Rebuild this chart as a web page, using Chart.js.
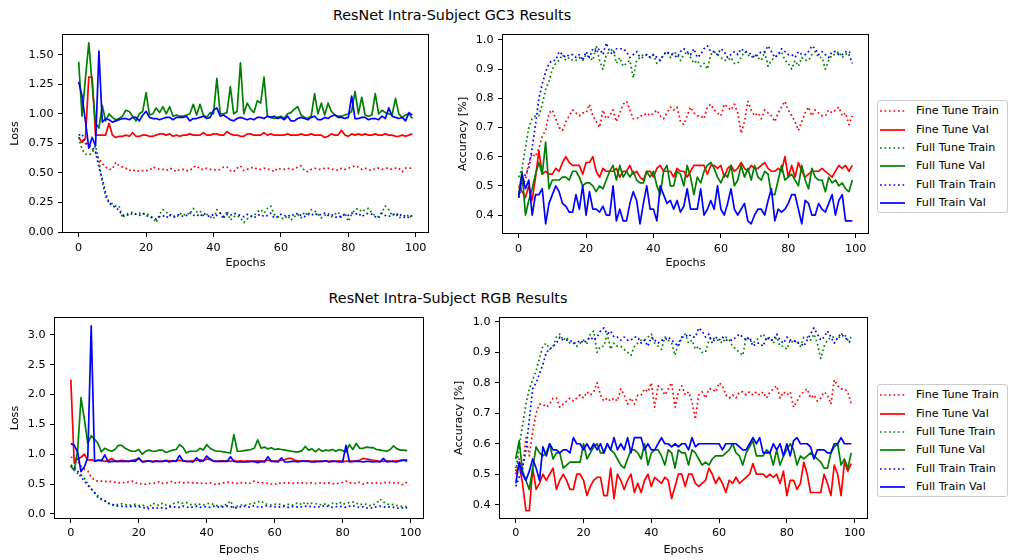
<!DOCTYPE html>
<html lang="en">
<head>
  <meta charset="UTF-8" />
  <title>ResNet Intra-Subject Results</title>
  <script src="https://cdn.jsdelivr.net/npm/chart.js"></script>
  <style>
    body { margin: 0; background: #fff; font-family: 'DejaVu Sans', sans-serif; color: #000; }
    #page { position: relative; width: 1010px; height: 560px; overflow: hidden; background: #fff; }
    canvas { position: absolute; }
    .fig-title { position: absolute; width: 400px; text-align: center; font-size: 14.3px; line-height: 18px; }
    .legend {
      position: absolute; width: 131px; height: 113px; box-sizing: border-box;
      border: 1px solid #cccccc; border-radius: 3px; background: rgba(255,255,255,0.8);
      font-size: 11.2px;
    }
    .legend-row { position: absolute; left: 0; height: 14px; width: 130px; }
    .legend-row svg { position: absolute; left: 2px; top: 0; }
    .legend-row span { position: absolute; left: 38px; top: 0; line-height: 14px; white-space: nowrap; }
  </style>
</head>
<body>
<div id="page">
  <div class="fig-title" style="left:252px;top:6px">ResNet Intra-Subject GC3 Results</div>
  <div class="fig-title" style="left:248px;top:289px">ResNet Intra-Subject RGB Results</div>

  <canvas id="gc3Loss" width="440" height="244" style="left:0;top:26px"></canvas>
  <canvas id="gc3Acc" width="425" height="244" style="left:450px;top:26px"></canvas>
  <canvas id="rgbLoss" width="435" height="248" style="left:0;top:309px"></canvas>
  <canvas id="rgbAcc" width="430" height="248" style="left:445px;top:309px"></canvas>

  <div class="legend" id="legendTop" style="left:877px;top:100px"></div>
  <div class="legend" id="legendBottom" style="left:877px;top:384px"></div>
</div>

<script>
  // series order: fine tune train/val, full tune train/val, full train train/val
  const seriesNames = ['Fine Tune Train', 'Fine Tune Val', 'Full Tune Train', 'Full Tune Val', 'Full Train Train', 'Full Train Val'];
  const seriesColors = ['#ff0000', '#ff0000', '#008000', '#008000', '#0000ff', '#0000ff'];
  const seriesDotted = [true, false, true, false, true, false];

  const epochs = Array.from({ length: 100 }, (_, i) => i);
  const epochTicks = [0, 20, 40, 60, 80, 100];
  const gc3LossTicks = [0, 0.25, 0.5, 0.75, 1.0, 1.25, 1.5];
  const rgbLossTicks = [0, 0.5, 1.0, 1.5, 2.0, 2.5, 3.0];
  const accTicks = [0.4, 0.5, 0.6, 0.7, 0.8, 0.9, 1.0];

  // ---- GC3 loss ----
  const gc3LossFineTrain = [
    0.80, 0.78, 0.76, 0.73, 0.70, 0.67, 0.62, 0.58, 0.55, 0.53,
    0.53, 0.59, 0.56, 0.55, 0.54, 0.52, 0.53, 0.51, 0.52, 0.52,
    0.52, 0.52, 0.55, 0.54, 0.53, 0.53, 0.52, 0.54, 0.53, 0.51,
    0.53, 0.53, 0.52, 0.52, 0.55, 0.56, 0.53, 0.53, 0.54, 0.53,
    0.53, 0.52, 0.53, 0.55, 0.55, 0.52, 0.51, 0.54, 0.56, 0.52,
    0.53, 0.54, 0.55, 0.53, 0.53, 0.54, 0.53, 0.53, 0.51, 0.54,
    0.53, 0.53, 0.54, 0.53, 0.53, 0.55, 0.56, 0.52, 0.51, 0.53,
    0.54, 0.53, 0.53, 0.54, 0.54, 0.53, 0.53, 0.52, 0.54, 0.53,
    0.54, 0.55, 0.56, 0.55, 0.53, 0.54, 0.53, 0.52, 0.54, 0.54,
    0.53, 0.54, 0.54, 0.53, 0.54, 0.54, 0.51, 0.54, 0.54, 0.54
  ];
  const gc3LossFineVal = [
    0.80, 0.76, 0.79, 1.31, 1.31, 0.82, 0.82, 0.82, 0.82, 0.92,
    0.82, 0.80, 0.81, 0.81, 0.82, 0.81, 0.84, 0.81, 0.81, 0.82,
    0.82, 0.81, 0.81, 0.82, 0.83, 0.83, 0.82, 0.83, 0.81, 0.82,
    0.81, 0.82, 0.82, 0.83, 0.82, 0.82, 0.82, 0.84, 0.82, 0.82,
    0.83, 0.83, 0.82, 0.82, 0.85, 0.83, 0.82, 0.82, 0.81, 0.81,
    0.83, 0.83, 0.82, 0.82, 0.82, 0.84, 0.82, 0.83, 0.82, 0.82,
    0.82, 0.82, 0.83, 0.82, 0.82, 0.82, 0.83, 0.82, 0.82, 0.83,
    0.82, 0.82, 0.82, 0.80, 0.81, 0.83, 0.82, 0.82, 0.86, 0.82,
    0.81, 0.83, 0.82, 0.83, 0.82, 0.83, 0.82, 0.82, 0.83, 0.82,
    0.82, 0.83, 0.82, 0.82, 0.81, 0.81, 0.82, 0.81, 0.82, 0.83
  ];
  const gc3LossFullTuneTrain = [
    0.80, 0.70, 0.66, 0.65, 0.67, 0.73, 0.60, 0.42, 0.30, 0.25,
    0.24, 0.22, 0.22, 0.12, 0.15, 0.16, 0.17, 0.15, 0.16, 0.15,
    0.16, 0.14, 0.12, 0.08, 0.15, 0.19, 0.17, 0.14, 0.13, 0.12,
    0.16, 0.14, 0.16, 0.15, 0.20, 0.17, 0.18, 0.14, 0.15, 0.13,
    0.11, 0.19, 0.16, 0.11, 0.18, 0.10, 0.13, 0.14, 0.12, 0.08,
    0.11, 0.13, 0.14, 0.17, 0.19, 0.16, 0.20, 0.22, 0.15, 0.13,
    0.12, 0.11, 0.14, 0.10, 0.13, 0.15, 0.12, 0.17, 0.14, 0.19,
    0.18, 0.15, 0.12, 0.14, 0.16, 0.13, 0.15, 0.17, 0.12, 0.16,
    0.09, 0.15, 0.19, 0.20, 0.17, 0.19, 0.20, 0.16, 0.14, 0.13,
    0.17, 0.22, 0.19, 0.14, 0.16, 0.12, 0.13, 0.12, 0.15, 0.11
  ];
  const gc3LossFullTuneVal = [
    1.44, 0.98, 1.30, 1.60, 1.25, 0.92, 0.88, 1.07, 0.94, 1.00,
    0.97, 0.95, 0.96, 0.98, 1.03, 1.02, 0.98, 0.94, 1.00, 1.02,
    1.18, 0.99, 1.00, 1.05, 1.01, 1.06, 1.00, 1.06, 0.98, 0.99,
    0.98, 0.98, 0.99, 1.00, 1.08, 0.99, 1.08, 0.99, 0.97, 1.01,
    1.00, 1.30, 1.00, 1.00, 1.01, 1.23, 1.00, 1.02, 1.43, 1.00,
    1.09, 1.04, 1.01, 1.11, 1.09, 1.31, 0.98, 0.97, 0.96, 0.97,
    0.98, 0.96, 1.00, 1.01, 1.04, 1.06, 0.99, 0.97, 0.96, 0.98,
    1.17, 1.00, 1.09, 0.99, 1.09, 1.02, 0.99, 0.98, 0.98, 0.99,
    1.00, 1.02, 1.19, 1.00, 1.14, 0.99, 0.98, 0.99, 1.17, 1.00,
    1.03, 1.01, 1.00, 0.99, 1.13, 1.00, 0.97, 0.99, 1.00, 0.96
  ];
  const gc3LossFullTrainTrain = [
    0.82, 0.83, 0.75, 0.73, 0.72, 0.68, 0.55, 0.45, 0.33, 0.25,
    0.22, 0.21, 0.18, 0.14, 0.15, 0.14, 0.16, 0.15, 0.14, 0.16,
    0.14, 0.13, 0.12, 0.11, 0.13, 0.14, 0.12, 0.15, 0.13, 0.14,
    0.15, 0.13, 0.14, 0.16, 0.14, 0.15, 0.13, 0.16, 0.14, 0.13,
    0.15, 0.14, 0.16, 0.13, 0.15, 0.14, 0.16, 0.15, 0.14, 0.13,
    0.15, 0.14, 0.12, 0.14, 0.15, 0.13, 0.14, 0.16, 0.12, 0.13,
    0.15, 0.14, 0.13, 0.15, 0.14, 0.16, 0.14, 0.13, 0.15, 0.14,
    0.16, 0.14, 0.15, 0.16, 0.14, 0.15, 0.13, 0.12, 0.14, 0.15,
    0.14, 0.16, 0.15, 0.16, 0.13, 0.15, 0.16, 0.15, 0.13, 0.12,
    0.16, 0.14, 0.13, 0.15, 0.14, 0.16, 0.13, 0.14, 0.12, 0.14
  ];
  const gc3LossFullTrainVal = [
    1.27, 1.15, 0.94, 0.71, 0.80, 0.73, 1.53, 0.93, 0.96, 0.95,
    0.93, 0.94, 0.95, 0.96, 0.96, 0.95, 0.97, 0.97, 0.94, 0.99,
    1.02, 0.97, 0.96, 0.96, 0.95, 0.96, 0.97, 0.97, 0.95, 0.97,
    0.97, 0.97, 0.98, 0.94, 0.96, 0.96, 0.97, 0.98, 0.96, 0.97,
    1.03, 1.05, 0.98, 0.99, 0.97, 0.95, 0.94, 0.96, 0.97, 0.96,
    0.95, 0.96, 0.95, 0.97, 0.97, 0.96, 0.98, 0.97, 0.98, 0.96,
    0.97, 0.95, 0.98, 0.94, 0.94, 0.96, 0.97, 0.96, 0.95, 0.97,
    0.98, 0.95, 0.95, 0.97, 0.96, 0.98, 0.99, 0.97, 0.97, 0.96,
    0.97, 1.15, 0.96, 0.96, 0.97, 0.97, 0.95, 0.96, 0.96, 0.95,
    0.98, 0.96, 1.05, 0.98, 0.97, 0.96, 0.97, 0.94, 1.01, 0.99
  ];

  // ---- GC3 accuracy ----
  const gc3AccFineTrain = [
    0.47, 0.50, 0.52, 0.58, 0.61, 0.60, 0.63, 0.67, 0.69, 0.75,
    0.76, 0.73, 0.70, 0.69, 0.72, 0.74, 0.76, 0.75, 0.74, 0.75,
    0.75, 0.78, 0.74, 0.72, 0.70, 0.76, 0.73, 0.74, 0.76, 0.72,
    0.75, 0.78, 0.79, 0.76, 0.73, 0.73, 0.74, 0.74, 0.75, 0.74,
    0.75, 0.76, 0.74, 0.73, 0.75, 0.77, 0.76, 0.77, 0.72, 0.71,
    0.74, 0.77, 0.75, 0.74, 0.74, 0.73, 0.77, 0.78, 0.76, 0.75,
    0.74, 0.78, 0.77, 0.76, 0.78, 0.75, 0.68, 0.72, 0.79, 0.76,
    0.74, 0.75, 0.73, 0.76, 0.75, 0.74, 0.72, 0.75, 0.77, 0.79,
    0.76, 0.74, 0.72, 0.69, 0.72, 0.75, 0.77, 0.74, 0.76, 0.75,
    0.74, 0.74, 0.76, 0.75, 0.76, 0.77, 0.74, 0.75, 0.71, 0.74
  ];
  const gc3AccFineVal = [
    0.50, 0.48, 0.46, 0.50, 0.45, 0.53, 0.62, 0.54, 0.55, 0.54,
    0.54, 0.56, 0.55, 0.58, 0.60, 0.58, 0.57, 0.57, 0.57, 0.54,
    0.58, 0.58, 0.60, 0.55, 0.53, 0.56, 0.55, 0.55, 0.55, 0.56,
    0.53, 0.55, 0.55, 0.57, 0.54, 0.55, 0.53, 0.52, 0.55, 0.55,
    0.53, 0.56, 0.57, 0.55, 0.55, 0.55, 0.53, 0.56, 0.55, 0.55,
    0.53, 0.55, 0.57, 0.57, 0.57, 0.57, 0.54, 0.57, 0.57, 0.56,
    0.57, 0.53, 0.56, 0.57, 0.55, 0.56, 0.58, 0.56, 0.55, 0.57,
    0.56, 0.56, 0.57, 0.58, 0.56, 0.55, 0.55, 0.56, 0.55, 0.60,
    0.53, 0.57, 0.53, 0.58, 0.55, 0.53, 0.54, 0.55, 0.55, 0.55,
    0.56, 0.55, 0.54, 0.53, 0.55, 0.57, 0.56, 0.57, 0.55, 0.57
  ];
  const gc3AccFullTuneTrain = [
    0.53, 0.56, 0.63, 0.70, 0.73, 0.74, 0.74, 0.78, 0.83, 0.86,
    0.90, 0.92, 0.93, 0.95, 0.93, 0.94, 0.93, 0.93, 0.94, 0.93,
    0.95, 0.94, 0.93, 0.98, 0.93, 0.90, 0.95, 0.96, 0.97, 0.92,
    0.94, 0.91, 0.92, 0.93, 0.87, 0.93, 0.94, 0.95, 0.95, 0.94,
    0.95, 0.92, 0.93, 0.95, 0.96, 0.94, 0.96, 0.95, 0.93, 0.95,
    0.96, 0.94, 0.92, 0.93, 0.91, 0.92, 0.90, 0.95, 0.96, 0.95,
    0.94, 0.93, 0.93, 0.94, 0.92, 0.92, 0.94, 0.96, 0.95, 0.94,
    0.95, 0.94, 0.93, 0.96, 0.91, 0.93, 0.94, 0.95, 0.96, 0.93,
    0.92, 0.90, 0.93, 0.91, 0.94, 0.93, 0.93, 0.95, 0.96, 0.94,
    0.94, 0.90, 0.93, 0.95, 0.95, 0.96, 0.94, 0.95, 0.96, 0.95
  ];
  const gc3AccFullTuneVal = [
    0.47, 0.55, 0.40, 0.45, 0.49, 0.54, 0.58, 0.54, 0.65, 0.49,
    0.52, 0.52, 0.52, 0.53, 0.53, 0.52, 0.55, 0.55, 0.53, 0.50,
    0.51, 0.51, 0.50, 0.48, 0.50, 0.49, 0.52, 0.55, 0.57, 0.52,
    0.57, 0.53, 0.55, 0.53, 0.55, 0.52, 0.51, 0.51, 0.55, 0.53,
    0.55, 0.50, 0.47, 0.55, 0.57, 0.50, 0.50, 0.55, 0.54, 0.50,
    0.57, 0.53, 0.47, 0.53, 0.51, 0.55, 0.57, 0.58, 0.56, 0.53,
    0.51, 0.54, 0.53, 0.57, 0.50, 0.52, 0.57, 0.53, 0.56, 0.52,
    0.57, 0.53, 0.52, 0.55, 0.54, 0.47, 0.47, 0.52, 0.57, 0.52,
    0.53, 0.54, 0.52, 0.50, 0.57, 0.52, 0.49, 0.56, 0.53, 0.52,
    0.52, 0.48, 0.53, 0.51, 0.52, 0.50, 0.51, 0.49, 0.48, 0.52
  ];
  const gc3AccFullTrainTrain = [
    0.46, 0.51, 0.54, 0.56, 0.63, 0.71, 0.80, 0.85, 0.89, 0.92,
    0.93, 0.93, 0.96, 0.95, 0.94, 0.95, 0.95, 0.94, 0.95, 0.93,
    0.96, 0.94, 0.97, 0.96, 0.97, 0.95, 0.99, 0.96, 0.95, 0.97,
    0.97, 0.97, 0.96, 0.94, 0.95, 0.96, 0.94, 0.94, 0.95, 0.94,
    0.95, 0.94, 0.93, 0.95, 0.96, 0.95, 0.95, 0.94, 0.96, 0.97,
    0.96, 0.95, 0.97, 0.94, 0.95, 0.97, 0.98, 0.96, 0.96, 0.95,
    0.97, 0.96, 0.94, 0.95, 0.96, 0.95, 0.97, 0.96, 0.96, 0.95,
    0.94, 0.95, 0.96, 0.96, 0.98, 0.96, 0.94, 0.95, 0.97, 0.96,
    0.95, 0.95, 0.94, 0.96, 0.95, 0.95, 0.96, 0.98, 0.97, 0.95,
    0.96, 0.95, 0.94, 0.96, 0.96, 0.95, 0.95, 0.96, 0.95, 0.92
  ];
  const gc3AccFullTrainVal = [
    0.46, 0.54, 0.49, 0.52, 0.40, 0.47, 0.47, 0.49, 0.37, 0.44,
    0.47, 0.50, 0.48, 0.44, 0.43, 0.41, 0.41, 0.47, 0.42, 0.50,
    0.40, 0.48, 0.42, 0.42, 0.41, 0.43, 0.40, 0.40, 0.50, 0.38,
    0.42, 0.38, 0.38, 0.44, 0.48, 0.45, 0.37, 0.44, 0.50, 0.42,
    0.42, 0.38, 0.50, 0.47, 0.44, 0.45, 0.42, 0.45, 0.41, 0.43,
    0.49, 0.42, 0.42, 0.42, 0.49, 0.40, 0.42, 0.45, 0.42, 0.50,
    0.42, 0.40, 0.44, 0.49, 0.42, 0.40, 0.42, 0.44, 0.38, 0.37,
    0.40, 0.42, 0.42, 0.40, 0.45, 0.49, 0.38, 0.42, 0.41, 0.42,
    0.44, 0.47, 0.47, 0.42, 0.37, 0.45, 0.44, 0.40, 0.40, 0.44,
    0.42, 0.41, 0.44, 0.47, 0.40, 0.45, 0.47, 0.38, 0.38, 0.38
  ];

  // ---- RGB loss ----
  const rgbLossFineTrain = [
    0.95, 0.94, 0.88, 0.80, 0.75, 0.72, 0.62, 0.56, 0.55, 0.55,
    0.54, 0.55, 0.54, 0.53, 0.52, 0.53, 0.52, 0.54, 0.55, 0.52,
    0.51, 0.50, 0.50, 0.51, 0.51, 0.52, 0.54, 0.51, 0.52, 0.53,
    0.55, 0.51, 0.53, 0.52, 0.52, 0.53, 0.52, 0.52, 0.51, 0.52,
    0.51, 0.52, 0.50, 0.50, 0.51, 0.52, 0.53, 0.53, 0.52, 0.51,
    0.52, 0.53, 0.50, 0.52, 0.55, 0.53, 0.52, 0.52, 0.51, 0.50,
    0.49, 0.52, 0.51, 0.52, 0.52, 0.51, 0.52, 0.52, 0.52, 0.51,
    0.52, 0.52, 0.51, 0.52, 0.52, 0.51, 0.52, 0.51, 0.50, 0.52,
    0.53, 0.55, 0.52, 0.52, 0.51, 0.53, 0.50, 0.52, 0.52, 0.51,
    0.52, 0.51, 0.53, 0.52, 0.53, 0.52, 0.53, 0.50, 0.49, 0.54
  ];
  const rgbLossFineVal = [
    2.25, 0.85, 0.92, 0.95, 1.00, 0.90, 0.91, 0.89, 0.90, 0.90,
    0.88, 0.89, 0.93, 0.89, 0.88, 0.90, 0.89, 0.88, 0.90, 0.91,
    0.92, 0.88, 0.88, 0.89, 0.88, 0.89, 0.88, 0.88, 0.90, 0.89,
    0.88, 0.89, 0.90, 0.89, 0.88, 0.88, 0.89, 0.90, 0.91, 0.89,
    0.92, 0.91, 0.89, 0.88, 0.89, 0.89, 0.89, 0.88, 0.90, 0.88,
    0.89, 0.88, 0.89, 0.88, 0.88, 0.89, 0.88, 0.89, 0.90, 0.89,
    0.88, 0.89, 0.90, 0.91, 0.93, 0.93, 0.90, 0.89, 0.88, 0.89,
    0.89, 0.88, 0.89, 0.88, 0.88, 0.89, 0.88, 0.89, 0.88, 0.89,
    0.88, 0.88, 0.89, 0.88, 0.89, 0.90, 0.93, 0.92, 0.91, 0.90,
    0.89, 0.88, 0.88, 0.89, 0.88, 0.88, 0.89, 0.90, 0.90, 0.88
  ];
  const rgbLossFullTuneTrain = [
    0.80, 0.75, 0.68, 0.66, 0.60, 0.50, 0.42, 0.35, 0.27, 0.24,
    0.22, 0.18, 0.14, 0.15, 0.16, 0.17, 0.16, 0.14, 0.15, 0.16,
    0.14, 0.15, 0.13, 0.10, 0.18, 0.16, 0.14, 0.18, 0.15, 0.13,
    0.17, 0.19, 0.20, 0.18, 0.19, 0.16, 0.15, 0.17, 0.16, 0.15,
    0.17, 0.18, 0.16, 0.14, 0.13, 0.14, 0.16, 0.22, 0.10, 0.13,
    0.15, 0.14, 0.16, 0.17, 0.18, 0.20, 0.22, 0.17, 0.16, 0.15,
    0.16, 0.17, 0.15, 0.14, 0.16, 0.14, 0.17, 0.19, 0.15, 0.20,
    0.16, 0.18, 0.17, 0.16, 0.15, 0.17, 0.14, 0.18, 0.16, 0.20,
    0.16, 0.18, 0.19, 0.20, 0.18, 0.15, 0.17, 0.16, 0.14, 0.15,
    0.18, 0.25, 0.20, 0.17, 0.15, 0.16, 0.14, 0.13, 0.12, 0.13
  ];
  const rgbLossFullTuneVal = [
    0.80, 0.73, 1.05, 1.95, 1.58, 1.18, 1.31, 1.25, 1.18, 1.04,
    1.10, 1.07, 1.05, 1.08, 1.15, 1.15, 1.10, 1.07, 1.05, 1.05,
    1.08, 1.00, 1.05, 1.07, 1.05, 1.05, 1.07, 1.07, 1.03, 1.05,
    1.07, 1.08, 1.16, 1.12, 1.02, 1.05, 1.05, 1.05, 1.10, 1.07,
    1.16, 1.10, 1.07, 1.05, 1.05, 1.04, 1.03, 1.02, 1.33, 1.05,
    1.05, 1.06, 1.07, 1.08, 1.10, 1.24, 1.10, 1.12, 1.09, 1.11,
    1.08, 1.09, 1.08, 1.07, 1.06, 1.05, 1.04, 1.04, 1.06, 1.13,
    1.07, 1.09, 1.04, 1.09, 1.05, 1.07, 1.06, 1.08, 1.05, 1.08,
    1.06, 1.04, 1.16, 1.08, 1.18, 1.10, 1.10, 1.12, 1.11, 1.11,
    1.08, 1.07, 1.06, 1.05, 1.08, 1.14, 1.09, 1.07, 1.07, 1.06
  ];
  const rgbLossFullTrainTrain = [
    0.82, 0.78, 0.72, 0.62, 0.55, 0.48, 0.42, 0.36, 0.30, 0.25,
    0.22, 0.18, 0.17, 0.14, 0.13, 0.13, 0.12, 0.13, 0.12, 0.13,
    0.12, 0.11, 0.10, 0.09, 0.10, 0.09, 0.11, 0.10, 0.09, 0.12,
    0.11, 0.12, 0.11, 0.13, 0.12, 0.10, 0.12, 0.13, 0.11, 0.12,
    0.12, 0.11, 0.13, 0.12, 0.11, 0.12, 0.13, 0.12, 0.11, 0.10,
    0.12, 0.13, 0.11, 0.12, 0.14, 0.12, 0.11, 0.13, 0.14, 0.12,
    0.12, 0.11, 0.13, 0.12, 0.11, 0.12, 0.13, 0.11, 0.12, 0.13,
    0.12, 0.13, 0.11, 0.12, 0.13, 0.14, 0.12, 0.11, 0.12, 0.13,
    0.12, 0.11, 0.13, 0.14, 0.12, 0.11, 0.12, 0.10, 0.09, 0.11,
    0.12, 0.13, 0.12, 0.11, 0.12, 0.11, 0.10, 0.09, 0.11, 0.10
  ];
  const rgbLossFullTrainVal = [
    1.18, 1.15, 1.04, 0.71, 0.79, 0.95, 3.15, 0.88, 0.90, 0.89,
    0.99, 0.87, 0.88, 0.88, 0.88, 0.88, 0.88, 0.88, 0.89, 0.88,
    0.94, 0.87, 0.88, 0.89, 0.87, 0.88, 0.88, 0.88, 0.89, 0.87,
    0.89, 0.88, 0.98, 0.89, 0.88, 0.88, 0.87, 0.94, 0.88, 0.89,
    0.97, 0.92, 0.88, 0.88, 0.88, 0.88, 0.88, 0.96, 0.88, 0.87,
    0.87, 0.87, 0.87, 0.88, 0.88, 0.86, 0.88, 0.87, 0.96, 0.88,
    0.88, 0.87, 0.94, 0.87, 0.87, 0.88, 0.88, 0.87, 0.89, 0.88,
    0.88, 0.87, 0.87, 0.88, 0.88, 0.89, 0.87, 0.88, 0.88, 0.87,
    0.87, 1.15, 0.87, 0.88, 0.88, 0.88, 0.87, 0.88, 0.88, 0.87,
    0.88, 0.87, 0.93, 0.87, 0.88, 0.88, 0.87, 0.89, 0.90, 0.90
  ];

  // ---- RGB accuracy ----
  const rgbAccFineTrain = [
    0.52, 0.55, 0.52, 0.62, 0.56, 0.64, 0.70, 0.73, 0.73, 0.72,
    0.73, 0.75, 0.75, 0.72, 0.73, 0.74, 0.75, 0.74, 0.75, 0.76,
    0.75, 0.77, 0.76, 0.77, 0.80, 0.76, 0.74, 0.75, 0.74, 0.75,
    0.74, 0.78, 0.76, 0.73, 0.75, 0.73, 0.76, 0.76, 0.78, 0.77,
    0.80, 0.72, 0.79, 0.78, 0.76, 0.78, 0.80, 0.72, 0.77, 0.79,
    0.76, 0.77, 0.74, 0.68, 0.76, 0.77, 0.75, 0.78, 0.78, 0.77,
    0.80, 0.79, 0.76, 0.75, 0.76, 0.75, 0.77, 0.77, 0.76, 0.77,
    0.76, 0.77, 0.76, 0.77, 0.75, 0.77, 0.78, 0.79, 0.75, 0.77,
    0.76, 0.77, 0.72, 0.74, 0.76, 0.77, 0.78, 0.75, 0.76, 0.74,
    0.75, 0.77, 0.76, 0.73, 0.81, 0.79, 0.78, 0.78, 0.77, 0.73
  ];
  const rgbAccFineVal = [
    0.50, 0.53, 0.47, 0.38, 0.38, 0.52, 0.45, 0.47, 0.50, 0.48,
    0.50, 0.52, 0.45, 0.48, 0.50, 0.48, 0.45, 0.45, 0.50, 0.50,
    0.48, 0.43, 0.46, 0.48, 0.49, 0.49, 0.43, 0.43, 0.52, 0.42,
    0.50, 0.48, 0.45, 0.48, 0.50, 0.44, 0.47, 0.44, 0.48, 0.50,
    0.46, 0.49, 0.48, 0.47, 0.49, 0.48, 0.42, 0.46, 0.50, 0.50,
    0.46, 0.50, 0.50, 0.47, 0.46, 0.47, 0.48, 0.52, 0.50, 0.47,
    0.49, 0.47, 0.44, 0.48, 0.47, 0.49, 0.47, 0.48, 0.49, 0.50,
    0.535, 0.50, 0.50, 0.50, 0.49, 0.50, 0.49, 0.50, 0.47, 0.51,
    0.43, 0.48, 0.48, 0.45, 0.47, 0.54, 0.50, 0.44, 0.44, 0.44,
    0.44, 0.50, 0.47, 0.43, 0.53, 0.50, 0.43, 0.54, 0.51, 0.535
  ];
  const rgbAccFullTuneTrain = [
    0.51, 0.59, 0.66, 0.73, 0.78, 0.81, 0.84, 0.88, 0.92, 0.93,
    0.91, 0.92, 0.95, 0.96, 0.94, 0.95, 0.93, 0.93, 0.92, 0.93,
    0.94, 0.93, 0.96, 0.97, 0.90, 0.92, 0.92, 0.96, 0.91, 0.93,
    0.92, 0.92, 0.91, 0.90, 0.89, 0.92, 0.93, 0.94, 0.94, 0.95,
    0.96, 0.93, 0.92, 0.91, 0.95, 0.94, 0.93, 0.89, 0.93, 0.95,
    0.96, 0.93, 0.94, 0.91, 0.92, 0.90, 0.90, 0.94, 0.95, 0.94,
    0.94, 0.93, 0.95, 0.94, 0.92, 0.91, 0.90, 0.89, 0.95, 0.94,
    0.93, 0.94, 0.95, 0.96, 0.94, 0.95, 0.93, 0.95, 0.92, 0.92,
    0.91, 0.94, 0.93, 0.94, 0.92, 0.95, 0.95, 0.94, 0.96, 0.93,
    0.88, 0.92, 0.94, 0.95, 0.95, 0.94, 0.96, 0.96, 0.94, 0.95
  ];
  const rgbAccFullTuneVal = [
    0.55, 0.61, 0.51, 0.48, 0.45, 0.52, 0.59, 0.57, 0.56, 0.57,
    0.60, 0.55, 0.57, 0.57, 0.52, 0.53, 0.54, 0.54, 0.54, 0.54,
    0.60, 0.55, 0.57, 0.59, 0.60, 0.57, 0.57, 0.60, 0.58, 0.57,
    0.55, 0.53, 0.52, 0.55, 0.58, 0.58, 0.57, 0.55, 0.60, 0.53,
    0.57, 0.58, 0.58, 0.56, 0.53, 0.58, 0.57, 0.52, 0.58, 0.57,
    0.57, 0.53, 0.58, 0.57, 0.55, 0.53, 0.54, 0.53, 0.55, 0.56,
    0.56, 0.56, 0.57, 0.58, 0.60, 0.57, 0.56, 0.53, 0.57, 0.59,
    0.61, 0.56, 0.56, 0.56, 0.58, 0.57, 0.53, 0.58, 0.53, 0.56,
    0.58, 0.60, 0.58, 0.53, 0.56, 0.55, 0.56, 0.57, 0.56, 0.55,
    0.54, 0.52, 0.52, 0.57, 0.59, 0.60, 0.53, 0.55, 0.52, 0.57
  ];
  const rgbAccFullTrainTrain = [
    0.46, 0.49, 0.52, 0.58, 0.68, 0.78, 0.80, 0.83, 0.86, 0.90,
    0.91, 0.92, 0.93, 0.95, 0.94, 0.94, 0.94, 0.93, 0.93, 0.94,
    0.93, 0.94, 0.95, 0.94, 0.95, 0.97, 0.98, 0.96, 0.97, 0.95,
    0.95, 0.94, 0.95, 0.94, 0.94, 0.95, 0.95, 0.93, 0.94, 0.92,
    0.95, 0.94, 0.93, 0.94, 0.94, 0.95, 0.94, 0.93, 0.92, 0.95,
    0.95, 0.96, 0.95, 0.95, 0.98, 0.97, 0.95, 0.96, 0.93, 0.95,
    0.94, 0.95, 0.94, 0.94, 0.94, 0.95, 0.96, 0.95, 0.94, 0.95,
    0.92, 0.93, 0.93, 0.92, 0.95, 0.94, 0.94, 0.96, 0.94, 0.93,
    0.95, 0.94, 0.94, 0.93, 0.93, 0.92, 0.94, 0.96, 0.98, 0.96,
    0.94, 0.95, 0.97, 0.95, 0.93, 0.95, 0.96, 0.95, 0.94, 0.93
  ];
  const rgbAccFullTrainVal = [
    0.47, 0.54, 0.50, 0.48, 0.51, 0.55, 0.52, 0.48, 0.59, 0.56,
    0.60, 0.58, 0.58, 0.57, 0.58, 0.58, 0.57, 0.62, 0.60, 0.60,
    0.58, 0.60, 0.58, 0.60, 0.58, 0.60, 0.57, 0.60, 0.58, 0.62,
    0.58, 0.60, 0.58, 0.62, 0.57, 0.62, 0.62, 0.62, 0.58, 0.60,
    0.58, 0.58, 0.60, 0.62, 0.60, 0.60, 0.59, 0.60, 0.59, 0.60,
    0.60, 0.58, 0.62, 0.59, 0.60, 0.60, 0.60, 0.60, 0.60, 0.60,
    0.60, 0.58, 0.60, 0.60, 0.60, 0.60, 0.59, 0.58, 0.58, 0.60,
    0.62, 0.60, 0.62, 0.57, 0.57, 0.57, 0.60, 0.58, 0.60, 0.56,
    0.60, 0.56, 0.61, 0.62, 0.60, 0.60, 0.60, 0.59, 0.55, 0.58,
    0.58, 0.58, 0.57, 0.57, 0.60, 0.60, 0.62, 0.60, 0.60, 0.60
  ];

  Chart.defaults.font.family = "'DejaVu Sans', sans-serif";
  Chart.defaults.font.size = 11.2;
  Chart.defaults.color = '#000';

  // closed box around the plotting area, drawn above the lines
  const framePlugin = {
    id: 'frame',
    afterDatasetsDraw(chart) {
      const { ctx, chartArea: a } = chart;
      ctx.save();
      ctx.strokeStyle = '#000';
      ctx.lineWidth = 1;
      const l = Math.round(a.left) + 0.5, t = Math.round(a.top) + 0.5;
      const r = Math.round(a.right) - 0.5, b = Math.round(a.bottom) - 0.5;
      ctx.strokeRect(l, t, r - l, b - t);
      ctx.restore();
    }
  };

  function makePanel(id, series, cfg) {
    const datasets = series.map((vals, i) => ({
      label: seriesNames[i],
      data: vals.map((v, j) => ({ x: epochs[j], y: v })),
      borderColor: seriesColors[i],
      borderWidth: 1.7,
      borderDash: seriesDotted[i] ? [1.7, 2.8] : [],
      borderCapStyle: 'butt',
      borderJoinStyle: 'round',
      pointRadius: 0,
      tension: 0,
      order: -i
    }));

    return new Chart(document.getElementById(id), {
      type: 'line',
      data: { datasets },
      options: {
        responsive: false,
        animation: false,
        events: [],
        layout: { padding: { top: cfg.padTop, right: cfg.padRight, left: 0, bottom: 0 } },
        plugins: { legend: { display: false }, tooltip: { enabled: false } },
        scales: {
          x: {
            type: 'linear',
            bounds: 'data',
            min: -4.95,
            max: 103.95,
            afterBuildTicks: ax => { ax.ticks = epochTicks.map(v => ({ value: v })); },
            afterFit: ax => { ax.height = cfg.xAxisH; ax.paddingLeft = 0; ax.paddingRight = 0; },
            ticks: { autoSkip: false, maxRotation: 0, padding: cfg.xTickPad, callback: v => String(v) },
            grid: { drawOnChartArea: false, drawTicks: true, tickLength: 4, color: '#000' },
            border: { display: false },
            title: { display: true, text: 'Epochs', padding: 0 }
          },
          y: {
            type: 'linear',
            bounds: 'data',
            min: cfg.yMin,
            max: cfg.yMax,
            afterBuildTicks: ax => { ax.ticks = cfg.yTicks.map(v => ({ value: v })); },
            afterFit: ax => { ax.width = cfg.yAxisW; ax.paddingTop = 0; ax.paddingBottom = 0; },
            ticks: { autoSkip: false, padding: 4.5, callback: v => v.toFixed(cfg.decimals) },
            grid: { drawOnChartArea: false, drawTicks: true, tickLength: 4, color: '#000' },
            border: { display: false },
            title: { display: true, text: cfg.yLabel, padding: { top: cfg.yTitlePad, bottom: 0 } }
          }
        }
      },
      plugins: [framePlugin]
    });
  }

  makePanel('gc3Loss',
    [gc3LossFineTrain, gc3LossFineVal, gc3LossFullTuneTrain, gc3LossFullTuneVal, gc3LossFullTrainTrain, gc3LossFullTrainVal],
    { yMin: -0.008, yMax: 1.675, yTicks: gc3LossTicks, decimals: 2, yLabel: 'Loss',
      padTop: 8, padRight: 11, xAxisH: 37, yAxisW: 62, yTitlePad: 8.3, xTickPad: 4.5 });

  makePanel('gc3Acc',
    [gc3AccFineTrain, gc3AccFineVal, gc3AccFullTuneTrain, gc3AccFullTuneVal, gc3AccFullTrainTrain, gc3AccFullTrainVal],
    { yMin: 0.335, yMax: 1.0205, yTicks: accTicks, decimals: 1, yLabel: 'Accuracy [%]',
      padTop: 8, padRight: 6, xAxisH: 36, yAxisW: 52, yTitlePad: 6, xTickPad: 4.5 });

  makePanel('rgbLoss',
    [rgbLossFineTrain, rgbLossFineVal, rgbLossFullTuneTrain, rgbLossFullTuneVal, rgbLossFullTrainTrain, rgbLossFullTrainVal],
    { yMin: -0.085, yMax: 3.3, yTicks: rgbLossTicks, decimals: 1, yLabel: 'Loss',
      padTop: 8, padRight: 11, xAxisH: 38, yAxisW: 54, yTitlePad: 8.3, xTickPad: 3 });

  makePanel('rgbAcc',
    [rgbAccFineTrain, rgbAccFineVal, rgbAccFullTuneTrain, rgbAccFullTuneVal, rgbAccFullTrainTrain, rgbAccFullTrainVal],
    { yMin: 0.353, yMax: 1.016, yTicks: accTicks, decimals: 1, yLabel: 'Accuracy [%]',
      padTop: 8, padRight: 7, xAxisH: 38, yAxisW: 54, yTitlePad: 7.6, xTickPad: 3 });

  // legends beside the accuracy panels
  function buildLegend(id) {
    const box = document.getElementById(id);
    seriesNames.forEach((name, i) => {
      const row = document.createElement('div');
      row.className = 'legend-row';
      row.style.top = (3.3 + i * 18.3) + 'px';
      const dash = seriesDotted[i] ? ' stroke-dasharray="1.7 2.8"' : '';
      row.innerHTML =
        '<svg width="28" height="14"><line x1="0" y1="7" x2="25" y2="7" stroke="' + seriesColors[i] +
        '" stroke-width="1.7"' + dash + '/></svg><span>' + name + '</span>';
      box.appendChild(row);
    });
  }
  buildLegend('legendTop');
  buildLegend('legendBottom');
</script>
</body>
</html>
